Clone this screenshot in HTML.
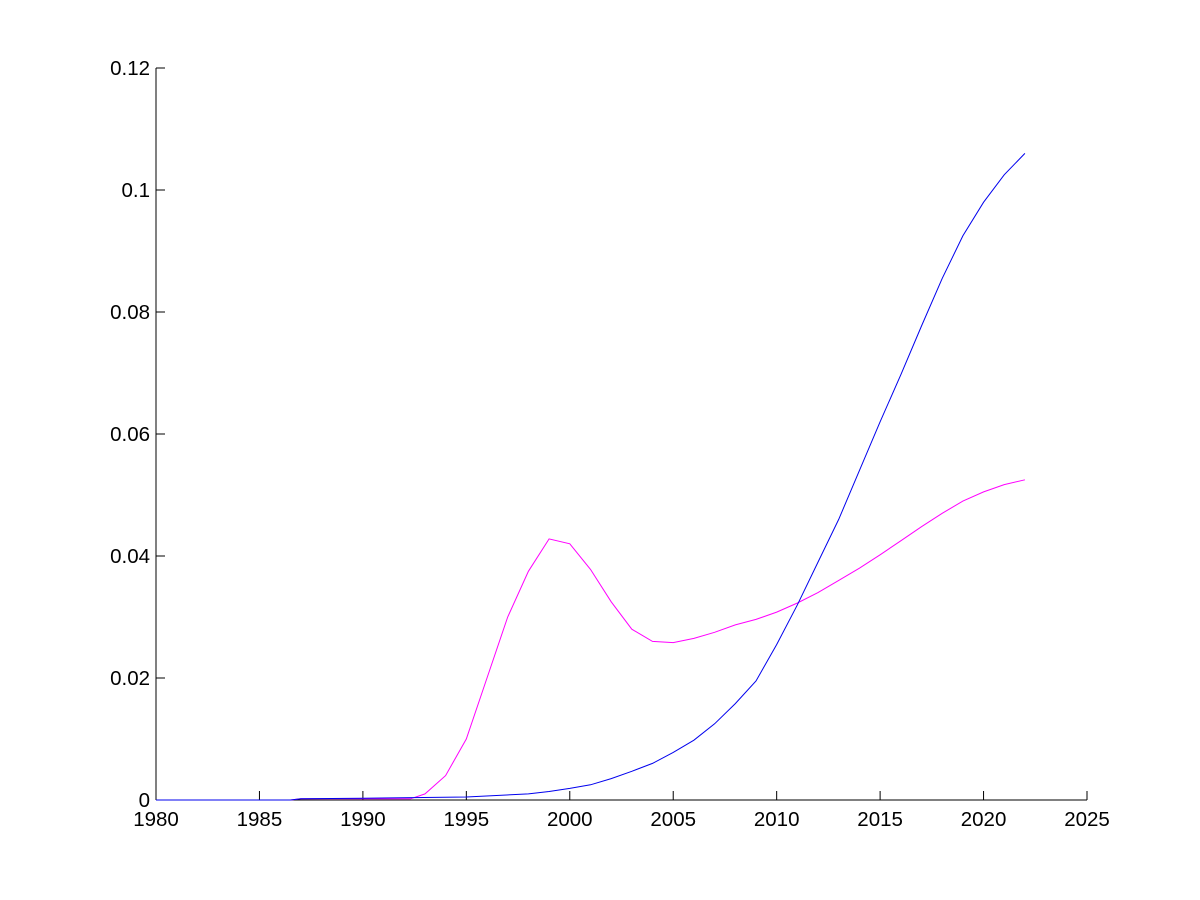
<!DOCTYPE html>
<html><head><style>body{margin:0;background:#fff}svg{display:block}text{font-family:"Liberation Sans",Arial,sans-serif;font-size:20.5px;fill:#000}</style></head>
<body>
<svg id="s" width="1200" height="900" xmlns="http://www.w3.org/2000/svg">
<rect width="1200" height="900" fill="#fff"/>
<g id="g"></g>
</svg>
<script>
var X=function(y){return 156+(y-1980)*(931/45)};
var Y=function(v){return 800-v*(732/0.12)};
var g=document.getElementById('g'),h='';
h+='<line x1="156" y1="68" x2="156" y2="800" stroke="#000"/><line x1="156" y1="800" x2="1087" y2="800" stroke="#000"/>';
for(var i=0;i<=9;i++){var x=X(1980+5*i);h+='<line x1="'+x+'" y1="800" x2="'+x+'" y2="791" stroke="#000"/><text x="'+x+'" y="826" text-anchor="middle">'+(1980+5*i)+'</text>';}
var yl=['0','0.02','0.04','0.06','0.08','0.1','0.12'];
for(var i=0;i<=6;i++){var y=Y(0.02*i);h+='<line x1="156" y1="'+y+'" x2="165" y2="'+y+'" stroke="#000"/><text x="150" y="'+(y+7)+'" text-anchor="end">'+yl[i]+'</text>';}
var m=[[1980,0],[1986.5,0],[1987,0.0002],[1992.3,0.0002],[1993,0.001],[1994,0.004],[1995,0.010],[1996,0.020],[1997,0.030],[1998,0.0375],[1999,0.0428],[2000,0.0420],[2001,0.0378],[2002,0.0325],[2003,0.028],[2004,0.026],[2005,0.0258],[2006,0.0265],[2007,0.0275],[2008,0.0287],[2009,0.0296],[2010,0.0308],[2011,0.0323],[2012,0.034],[2013,0.036],[2014,0.038],[2015,0.0402],[2016,0.0425],[2017,0.0448],[2018,0.047],[2019,0.049],[2020,0.0505],[2021,0.0517],[2022,0.0525]];
var b=[[1980,0],[1986.5,0],[1987,0.0002],[1990,0.0003],[1995,0.0005],[1998,0.001],[1999,0.0014],[2000,0.0019],[2001,0.0025],[2002,0.0035],[2003,0.0047],[2004,0.006],[2005,0.0078],[2006,0.0098],[2007,0.0125],[2008,0.0158],[2009,0.0195],[2010,0.0255],[2011,0.032],[2012,0.039],[2013,0.046],[2014,0.054],[2015,0.062],[2016,0.0697],[2017,0.0777],[2018,0.0855],[2019,0.0925],[2020,0.098],[2021,0.1025],[2022,0.106]];
function pl(d,c){return '<polyline fill="none" stroke="'+c+'" stroke-width="1" points="'+d.map(function(p){return X(p[0]).toFixed(1)+','+Y(p[1]).toFixed(1)}).join(' ')+'"/>';}
h+=pl(m,'#ff00ff')+pl(b,'#0000ee');
g.innerHTML=h;
</script>
</body></html>
